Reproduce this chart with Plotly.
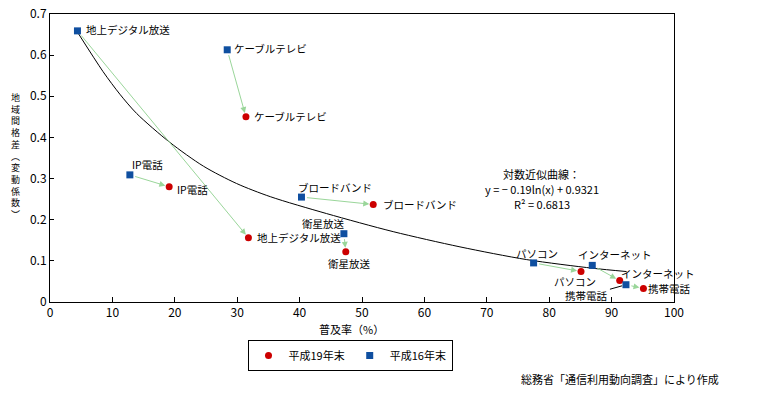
import plotly.graph_objects as go

# ---- data ----
names = ['地上デジタル放送', 'ケーブルテレビ', 'IP電話', 'ブロードバンド',
         '衛星放送', 'パソコン', 'インターネット', '携帯電話']
x_h16 = [4.4, 28.4, 12.8, 40.3, 47.1, 77.5, 86.9, 92.3]
y_h16 = [0.659, 0.613, 0.309, 0.255, 0.166, 0.095, 0.089, 0.042]
x_h19 = [31.8, 31.4, 19.1, 51.8, 47.4, 85.1, 91.3, 95.1]
y_h19 = [0.156, 0.450, 0.280, 0.237, 0.122, 0.074, 0.052, 0.033]

# logarithmic trend curve as drawn in the chart
curve_x = [4.4, 8.5, 11.2, 13.9, 19.2, 24.6, 29.9, 35.3, 44.3, 55.0, 65.7, 76.4, 87.0, 92.4]
curve_y = [0.656, 0.560, 0.505, 0.458, 0.388, 0.330, 0.288, 0.256, 0.215, 0.171, 0.134, 0.103, 0.082, 0.074]

x_ticks = [0, 10, 20, 30, 40, 50, 60, 70, 80, 90, 100]
y_ticks = [0, 0.1, 0.2, 0.3, 0.4, 0.5, 0.6, 0.7]
y_tick_text = ['0', '0.1', '0.2', '0.3', '0.4', '0.5', '0.6', '0.7']

series_h19 = '平成19年末'
series_h16 = '平成16年末'
x_title = '普及率（%）'
y_title_chars = ['地', '域', '間', '格', '差', '︵', '変', '動', '係', '数', '︶']
eq_lines = ['対数近似曲線：', 'y = − 0.19ln(x) + 0.9321', 'R² = 0.6813']
source_text = '総務省「通信利用動向調査」により作成'

# ---- styles ----
FONT = 'Noto Sans CJK JP'
BLUE = '#0F4FA0'
RED = '#CC0000'
GREEN = '#9AD69A'
W, H = 766, 394
L, R, T, B = 50, 92, 14, 92
PW, PH = W - L - R, H - T - B

# label placement: (xanchor, xshift, yshift)
lab_h16 = {
    '地上デジタル放送': ('left', 7, 1),
    'ケーブルテレビ': ('left', 5, 1),
    'IP電話': ('left', 0, 10),
    'ブロードバンド': ('left', -5, 10),
    '衛星放送': ('right', 3, 10),
    'パソコン': ('center', 3, 9),
    'インターネット': ('left', -16, 11),
}
lab_h19 = {
    '地上デジタル放送': ('left', 7, 0),
    'ケーブルテレビ': ('left', 6, 0),
    'IP電話': ('left', 6, -3),
    'ブロードバンド': ('left', 8, 0),
    '衛星放送': ('center', 4, -12),
    'パソコン': ('center', -6, -10),
    'インターネット': ('left', -1, 7),
    '携帯電話': ('left', 3, 0),
}

fig = go.Figure()

fig.add_trace(go.Scatter(x=curve_x, y=curve_y, mode='lines',
                         line=dict(color='black', width=1, shape='spline', smoothing=0.8),
                         showlegend=False, hoverinfo='skip'))
fig.add_trace(go.Scatter(x=x_h19, y=y_h19, mode='markers', name=series_h19,
                         marker=dict(symbol='circle', size=7, color=RED)))
fig.add_trace(go.Scatter(x=x_h16, y=y_h16, mode='markers', name=series_h16,
                         marker=dict(symbol='square', size=7, color=BLUE)))

ann = []
# arrows from 平成16年末 to 平成19年末
for i in range(len(names)):
    ann.append(dict(x=x_h19[i], y=y_h19[i], ax=x_h16[i], ay=y_h16[i],
                    xref='x', yref='y', axref='x', ayref='y', text='',
                    showarrow=True, arrowhead=2, arrowsize=1.2, arrowwidth=1,
                    arrowcolor=GREEN, standoff=4, startstandoff=4))

lab_font = dict(family=FONT, size=10.5, color='black')
for i, n in enumerate(names):
    if n in lab_h16:
        xa, xs, ys = lab_h16[n]
        ann.append(dict(x=x_h16[i], y=y_h16[i], xref='x', yref='y', text=n,
                        showarrow=False, xanchor=xa, yanchor='middle',
                        xshift=xs, yshift=ys, font=lab_font))
    else:
        ann.append(dict(x=x_h16[i], y=y_h16[i], xref='x', yref='y', text=n,
                        showarrow=True, arrowhead=0, arrowwidth=1, arrowcolor='black',
                        ax=-39, ay=11, standoff=4, font=lab_font))
    xa, xs, ys = lab_h19[n]
    ann.append(dict(x=x_h19[i], y=y_h19[i], xref='x', yref='y', text=n,
                    showarrow=False, xanchor=xa, yanchor='middle',
                    xshift=xs, yshift=ys, font=lab_font))

# equation (three lines, 15 px apart)
for k, line in enumerate(eq_lines):
    ann.append(dict(x=(541.5 - L) / PW, y=(H - B - (173.5 + 15 * k)) / PH,
                    xref='paper', yref='paper', text=line, showarrow=False,
                    xanchor='center', yanchor='middle',
                    font=dict(family=FONT, size=11, color='black')))

# axis titles
ann.append(dict(x=(351 - L) / PW, y=(H - B - 329) / PH, xref='paper', yref='paper',
                text=x_title, showarrow=False, xanchor='center', yanchor='middle',
                font=dict(family=FONT, size=11, color='black')))
# vertical (upright, stacked) y-axis title
ann.append(dict(x=(15 - L) / PW, y=(H - B - 156) / PH, xref='paper', yref='paper',
                text='<br>'.join(y_title_chars), showarrow=False,
                xanchor='center', yanchor='middle', align='center',
                font=dict(family=FONT, size=9, color='black')))

# source
ann.append(dict(x=(721 - L) / PW, y=(H - B - 379) / PH, xref='paper', yref='paper',
                text=source_text, showarrow=False, xanchor='right', yanchor='middle',
                font=dict(family=FONT, size=11, color='black')))

fig.update_layout(
    template='none',
    width=W, height=H,
    margin=dict(l=L, r=R, t=T, b=B, autoexpand=False),
    paper_bgcolor='white', plot_bgcolor='white',
    font=dict(family=FONT, size=12, color='black'),
    annotations=ann,
    showlegend=True,
    legend=dict(orientation='h', x=(350 - L) / PW, xanchor='center',
                y=(H - B - 340) / PH, yanchor='top',
                bordercolor='black', borderwidth=1, bgcolor='white',
                font=dict(family=FONT, size=11), traceorder='normal',
                itemclick=False, tracegroupgap=0),
)
fig.update_xaxes(range=[0, 100], tickvals=x_ticks, ticks='inside', ticklen=5,
                 tickcolor='black', showline=True, linecolor='black', linewidth=1,
                 mirror=True, showgrid=False, zeroline=False, automargin=False,
                 tickfont=dict(family=FONT, size=12))
fig.update_yaxes(range=[0, 0.7], tickvals=y_ticks, ticktext=y_tick_text, ticks='inside',
                 ticklen=4, tickcolor='black', showline=True, linecolor='black',
                 linewidth=1, mirror=True, showgrid=False, zeroline=False, automargin=False,
                 tickfont=dict(family=FONT, size=12))

fig.write_html('out.html', config={'displayModeBar': False},
               post_script="document.body.style.margin='0';document.body.style.padding='0';")
